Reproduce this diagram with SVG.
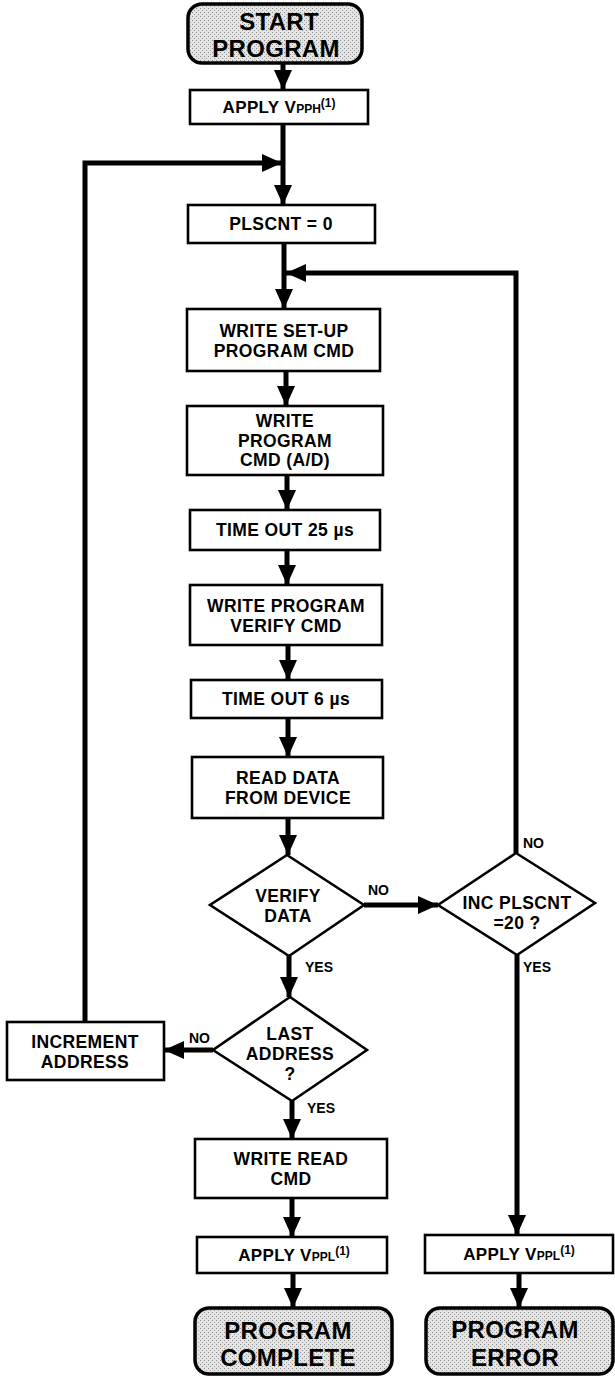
<svg xmlns="http://www.w3.org/2000/svg" width="615" height="1376" viewBox="0 0 615 1376">
<defs>
<pattern id="stip" width="4" height="4" patternUnits="userSpaceOnUse">
<rect width="4" height="4" fill="#e4e4e4"/>
<rect x="0" y="0" width="1" height="1" fill="#8a8a8a"/>
<rect x="2" y="2" width="1" height="1" fill="#9a9a9a"/>
</pattern>
<marker id="ah" markerUnits="userSpaceOnUse" markerWidth="20" markerHeight="18" refX="20" refY="9" orient="auto">
<path d="M0,0 L20,9 L0,18 z" fill="#000"/>
</marker>
</defs>
<style>
.box{fill:#fff;stroke:#000;stroke-width:2.6}
.term{fill:url(#stip);stroke:#000;stroke-width:3.5}
.dia{fill:#fff;stroke:#000;stroke-width:2.6}
.t{font-family:"Liberation Sans",Arial,sans-serif;font-weight:bold;font-size:17.5px;letter-spacing:0.4px;text-anchor:middle;fill:#000}
.big{font-family:"Liberation Sans",Arial,sans-serif;font-weight:bold;font-size:24px;letter-spacing:0.3px;text-anchor:middle;fill:#000}
.lbl{font-family:"Liberation Sans",Arial,sans-serif;font-weight:bold;font-size:14px;fill:#000}
.c{fill:none;stroke:#000;stroke-width:5}
.sm{font-size:12px;letter-spacing:0}
.ap{font-size:17px}
</style>
<rect width="615" height="1376" fill="#fff"/>
<g id="connectors">
<path class="c" d="M283,63 L283,90" marker-end="url(#ah)"/>
<path class="c" d="M283,124 L283,205" marker-end="url(#ah)"/>
<path class="c" d="M85,1022 L85,163 L282,163" marker-end="url(#ah)"/>
<path class="c" d="M284,243 L284,309" marker-end="url(#ah)"/>
<path class="c" d="M516,853 L516,273 L286,273" marker-end="url(#ah)"/>
<path class="c" d="M286,371 L286,406" marker-end="url(#ah)"/>
<path class="c" d="M287,475 L287,510" marker-end="url(#ah)"/>
<path class="c" d="M287,550 L287,585" marker-end="url(#ah)"/>
<path class="c" d="M288,645 L288,680" marker-end="url(#ah)"/>
<path class="c" d="M288,718 L288,757" marker-end="url(#ah)"/>
<path class="c" d="M288,818 L288,855" marker-end="url(#ah)"/>
<path class="c" d="M364,905 L438,905" marker-end="url(#ah)"/>
<path class="c" d="M289,956 L289,997" marker-end="url(#ah)"/>
<path class="c" d="M213,1050 L164,1050" marker-end="url(#ah)"/>
<path class="c" d="M292,1101 L292,1139" marker-end="url(#ah)"/>
<path class="c" d="M292,1198 L292,1237" marker-end="url(#ah)"/>
<path class="c" d="M293,1273 L293,1308" marker-end="url(#ah)"/>
<path class="c" d="M517,955 L517,1235" marker-end="url(#ah)"/>
<path class="c" d="M519,1273 L519,1308" marker-end="url(#ah)"/>
<text class="lbl" x="368" y="895">NO</text>
<text class="lbl" x="523" y="848">NO</text>
<text class="lbl" x="523" y="972">YES</text>
<text class="lbl" x="305" y="972">YES</text>
<text class="lbl" x="189" y="1043">NO</text>
<text class="lbl" x="307" y="1113">YES</text>
</g>
<g id="start">
<rect class="term" x="188" y="4" width="174" height="59" rx="14"/>
<text class="big" x="279" y="29.5">START</text>
<text class="big" x="276" y="56.5">PROGRAM</text>
</g>
<g id="apply_vpph">
<rect class="box" x="190" y="90" width="178" height="34"/>
<text class="t ap" x="279" y="113">APPLY V<tspan class="sm">PPH</tspan><tspan class="sm" dy="-6">(1)</tspan></text>
</g>
<g id="plscnt0">
<rect class="box" x="188" y="205" width="187" height="38"/>
<text class="t" x="281" y="230">PLSCNT = 0</text>
</g>
<g id="setup">
<rect class="box" x="187" y="309" width="193" height="62"/>
<text class="t" x="284" y="337">WRITE SET-UP</text>
<text class="t" x="284" y="356.5">PROGRAM CMD</text>
</g>
<g id="write_prog">
<rect class="box" x="187" y="406" width="196" height="69"/>
<text class="t" x="285" y="427">WRITE</text>
<text class="t" x="285" y="446.5">PROGRAM</text>
<text class="t" x="285" y="466">CMD (A/D)</text>
</g>
<g id="timeout25">
<rect class="box" x="190" y="510" width="190" height="40"/>
<text class="t" x="285" y="536">TIME OUT 25 µs</text>
</g>
<g id="verify_cmd">
<rect class="box" x="190" y="585" width="192" height="60"/>
<text class="t" x="286" y="612">WRITE PROGRAM</text>
<text class="t" x="286" y="631.5">VERIFY CMD</text>
</g>
<g id="timeout6">
<rect class="box" x="191" y="680" width="191" height="38"/>
<text class="t" x="286" y="705">TIME OUT 6 µs</text>
</g>
<g id="read_data">
<rect class="box" x="192" y="757" width="191" height="61"/>
<text class="t" x="288" y="784">READ DATA</text>
<text class="t" x="288" y="803.5">FROM DEVICE</text>
</g>
<g id="verify_data">
<polygon class="dia" points="287,855 364,905 289,956 210,905"/>
<text class="t" x="288" y="902">VERIFY</text>
<text class="t" x="288" y="921.5">DATA</text>
</g>
<g id="inc_plscnt">
<polygon class="dia" points="516,853 595,903 517,955 438,905"/>
<text class="t" x="517" y="909">INC PLSCNT</text>
<text class="t" x="517" y="928.5">=20 ?</text>
</g>
<g id="last_address">
<polygon class="dia" points="290,997 367,1050 292,1101 213,1050"/>
<text class="t" x="290" y="1040">LAST</text>
<text class="t" x="290" y="1060">ADDRESS</text>
<text class="t" x="290" y="1080">?</text>
</g>
<g id="increment">
<rect class="box" x="7" y="1022" width="157" height="58"/>
<text class="t" x="85" y="1048">INCREMENT</text>
<text class="t" x="85" y="1067.5">ADDRESS</text>
</g>
<g id="write_read">
<rect class="box" x="195" y="1139" width="192" height="59"/>
<text class="t" x="291" y="1165">WRITE READ</text>
<text class="t" x="291" y="1184.5">CMD</text>
</g>
<g id="apply_vppl_left">
<rect class="box" x="197" y="1237" width="190" height="36"/>
<text class="t ap" x="294" y="1261">APPLY V<tspan class="sm">PPL</tspan><tspan class="sm" dy="-6">(1)</tspan></text>
</g>
<g id="program_complete">
<rect class="term" x="195" y="1308" width="197" height="66" rx="14"/>
<text class="big" x="288" y="1338.5">PROGRAM</text>
<text class="big" x="288" y="1366">COMPLETE</text>
</g>
<g id="apply_vppl_right">
<rect class="box" x="425" y="1235" width="188" height="38"/>
<text class="t ap" x="519" y="1260">APPLY V<tspan class="sm">PPL</tspan><tspan class="sm" dy="-6">(1)</tspan></text>
</g>
<g id="program_error">
<rect class="term" x="426" y="1308" width="187" height="66" rx="14"/>
<text class="big" x="515" y="1338">PROGRAM</text>
<text class="big" x="515" y="1366">ERROR</text>
</g>
</svg>
